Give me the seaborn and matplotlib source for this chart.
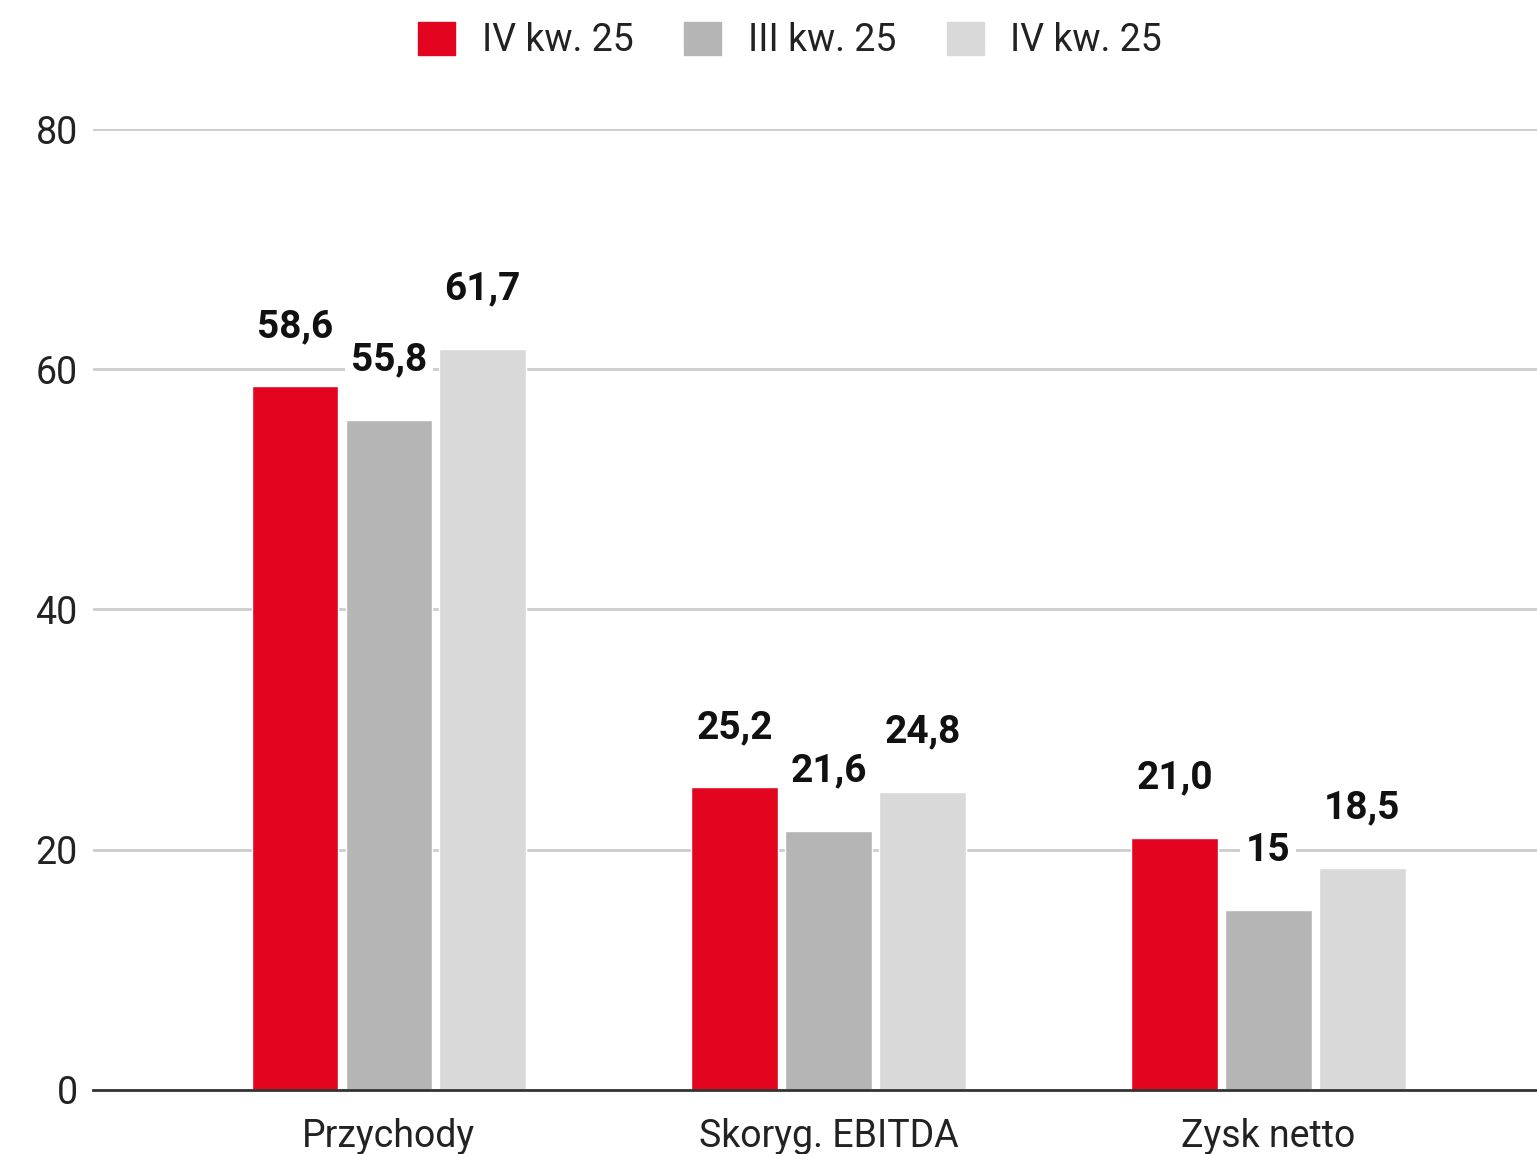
import pandas as pd
import matplotlib.pyplot as plt
import seaborn as sns

# data
categories = ["Przychody", "Skoryg. EBITDA", "Zysk netto"]
series_names = ["IV kw. 25", "III kw. 25", "IV kw. 25"]
series_keys = ["s1", "s2", "s3"]
s1_values = [58.6, 25.2, 21.0]
s2_values = [55.8, 21.6, 15.0]
s3_values = [61.7, 24.8, 18.5]
s1_labels = ["58,6", "25,2", "21,0"]
s2_labels = ["55,8", "21,6", "15"]
s3_labels = ["61,7", "24,8", "18,5"]
colors = ["#E30520", "#B5B5B5", "#D9D9D9"]

rows = []
for key, vals in zip(series_keys, [s1_values, s2_values, s3_values]):
    for cat, v in zip(categories, vals):
        rows.append({"cat": cat, "series": key, "value": v})
df = pd.DataFrame(rows)

sns.set_style("white")
plt.rcParams["font.family"] = ["Roboto", "DejaVu Sans"]

fig = plt.figure(figsize=(15.37, 11.54), dpi=100)
ax = fig.add_axes([0.0605, 0.0555, 0.9395, 0.8327])

sns.barplot(
    data=df, x="cat", y="value", hue="series",
    hue_order=series_keys, palette=colors,
    width=0.64, gap=0.075, saturation=1,
    legend=False, ax=ax
)

ax.set_ylim(0, 80)
ax.set_xlim(-0.673, 2.611)
ax.set_yticks([0, 20, 40, 60, 80])
ax.yaxis.grid(True, color="#CCCCCC", linewidth=2)
ax.set_axisbelow(True)
for s in ["top", "right", "left"]:
    ax.spines[s].set_visible(False)
ax.spines["bottom"].set_color("#333333")
ax.spines["bottom"].set_linewidth(2)
ax.spines["bottom"].set_zorder(5)
ax.tick_params(axis="y", length=0, pad=11, labelsize=27, labelcolor="#222222")
ax.tick_params(axis="x", length=0, pad=20, labelsize=27, labelcolor="#222222")
ax.set_xlabel("")
ax.set_ylabel("")

# value labels
for cont, labels in zip(ax.containers, [s1_labels, s2_labels, s3_labels]):
    for bar, lab in zip(cont, labels):
        ax.annotate(
            lab, (bar.get_x() + bar.get_width() / 2, bar.get_height()),
            xytext=(0, 43), textcoords="offset points",
            ha="center", va="center", fontsize=28, fontweight="bold",
            color="#111111",
            bbox=dict(boxstyle="square,pad=0.15", fc="white", ec="none")
        )

handles = [plt.Rectangle((0, 0), 1, 1, color=c) for c in colors]
fig.legend(
    handles, series_names, loc="center", bbox_to_anchor=(0.514, 0.965),
    ncol=3, frameon=False, fontsize=27, handlelength=1.0, handleheight=1.0,
    handletextpad=0.7, columnspacing=1.35, labelcolor="#222222"
)

fig.savefig("out.png", dpi=100)
